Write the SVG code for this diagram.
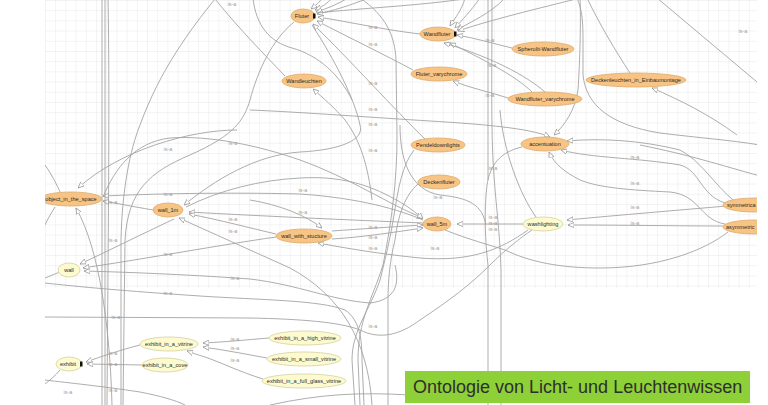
<svg xmlns="http://www.w3.org/2000/svg" width="768" height="405" viewBox="0 0 768 405">
<defs>
<pattern id="grid" x="45" y="0" width="10.2" height="10.2" patternUnits="userSpaceOnUse">
<path d="M0,0 H10.2 M0,0 V10.2" fill="none" stroke="#dedede" stroke-width="0.7"/>
</pattern>
<clipPath id="area"><rect x="45" y="0" width="712" height="405"/></clipPath>
<marker id="h" viewBox="0 0 8 8" refX="8" refY="4" markerWidth="6" markerHeight="6" markerUnits="userSpaceOnUse" orient="auto">
<path d="M0,0.5 L8,4 L0,7.5 z" fill="#fff" stroke="#959595" stroke-width="1"/>
</marker>
<style>
.c path{fill:none;stroke:#a4a4a4;stroke-width:0.9}
.m{marker-end:url(#h)}
.l{font-family:"Liberation Sans",Arial,sans-serif;font-size:5.5px;fill:#a0a0a0;text-anchor:middle}
.o ellipse{fill:#f8c483;stroke:#dcab70;stroke-width:0.8}
.y ellipse{fill:#fdfad0;stroke:#d4d09e;stroke-width:0.8}
.n text{font-family:"Liberation Sans",Arial,sans-serif;font-size:5.6px;fill:#2a2a2a;text-anchor:middle}
.t{font-family:"Liberation Sans",Arial,sans-serif;font-size:18px;fill:#2e2e2e}
</style>
</defs>
<rect width="768" height="405" fill="#fff"/>
<rect x="45" y="0" width="712" height="288" fill="url(#grid)"/>
<g clip-path="url(#area)">
<g id="connectors" class="c">
<path d="M215,-1 C190,30 160,70 140,125 C130,150 122,190 121,240 L121,405"/>
<path d="M215,-1 C240,30 265,55 285,76"/>
<path d="M253,-2 C256,26 270,42 292,48 C318,55 340,75 352,100"/>
<path class="m" d="M332,-2 C328,3 322,7 315,10"/>
<path class="m" d="M348,-2 C338,4 326,9 316,12"/>
<path class="m" d="M368,-2 C352,5 332,11 317,14"/>
<path class="m" d="M322,-2 C320,2 316,5 311,9"/>
<path class="m" d="M420,34 C385,30 350,22 318,17"/>
<path class="m" d="M413,70 C385,55 350,38 317,21"/>
<path class="m" d="M425,139 C395,110 350,60 313,24"/>
<path d="M294,22 C272,40 258,70 250,100 C244,120 235,135 190,155 C150,172 128,190 125,240 L123,405"/>
<path d="M360,-2 C385,15 395,35 396,60 L397,135 C397,180 392,220 383,265 C372,300 358,320 358,360 L360,405"/>
<path d="M318,13 C360,8 420,6 470,-2"/>
<path class="m" d="M465,-2 C462,10 455,18 450,26"/>
<path class="m" d="M480,-2 C470,12 462,20 455,28"/>
<path class="m" d="M505,-2 C490,14 470,22 457,30"/>
<path class="m" d="M580,-2 C540,8 490,20 458,31"/>
<path class="m" d="M512,48 C495,44 475,38 457,35"/>
<path class="m" d="M532,92 C515,75 480,58 450,43"/>
<path class="m" d="M545,92 C520,70 475,52 444,43"/>
<path class="m" d="M508,98 C490,92 470,88 453,81"/>
<path d="M587,-2 C600,25 615,50 630,73"/>
<path class="m" d="M737,135 C710,115 680,100 652,88"/>
<path d="M657,-2 L757,82"/>
<path d="M577,-2 C582,10 583,20 583,40 L583,75 C586,105 610,125 660,133 C700,138 730,140 760,145"/>
<path class="m" d="M580,-2 C581,20 580,60 578,90 C575,110 565,125 554,135"/>
<path class="m" d="M250,110 C300,112 380,118 430,121 C480,124 530,128 550,137"/>
<path class="m" d="M733,200 C715,185 700,160 680,150 C640,140 600,138 567,141"/>
<path class="m" d="M725,203 C700,195 700,170 680,165 C640,158 590,158 561,150"/>
<path class="m" d="M725,224 C700,220 700,195 670,192 C630,190 600,188 580,180 C565,172 555,165 549,152"/>
<path d="M640,145 C690,155 720,165 760,176"/>
<path d="M522,147 C500,152 490,165 487,185 C484,210 485,240 488,265 L488,405"/>
<path d="M488,-2 L488,180"/>
<path d="M492,-2 C492,60 491,120 493,160 C495,200 500,230 501,270 L501,405"/>
<path d="M500,110 C503,150 520,195 536,217"/>
<path class="m" d="M727,206 C680,210 620,215 567,220"/>
<path class="m" d="M723,226 C680,226 620,225 568,225"/>
<path class="m" d="M523,224 L457,224"/>
<path class="m" d="M528,230 C500,250 470,262 420,258 C380,254 345,248 318,243"/>
<path d="M445,230 C470,240 490,245 505,250 C530,262 560,268 600,268 C660,268 705,250 728,232"/>
<path class="m" d="M332,231 C360,229 390,227 423,225"/>
<path class="m" d="M332,239 C365,237 395,232 423,228"/>
<path class="m" d="M103,197 C115,168 135,142 170,138 C210,135 260,146 300,160 C350,178 390,205 423,218"/>
<path class="m" d="M423,220 C400,210 360,198 300,194 C220,192 150,194 103,196"/>
<path class="m" d="M312,25 C335,60 355,100 360,125 C365,140 340,150 300,152 C255,155 215,180 184,205"/>
<path class="m" d="M186,207 C220,190 260,180 300,178 C350,175 380,190 405,205 C412,210 418,214 423,219"/>
<path class="m" d="M423,223 C350,220 260,216 189,212"/>
<path class="m" d="M276,234 C250,228 220,220 189,214"/>
<path class="m" d="M372,405 C368,340 340,295 290,268 C250,250 210,232 179,218"/>
<path class="m" d="M174,219 C140,235 110,250 80,264"/>
<path class="m" d="M153,210 C130,206 115,203 103,201"/>
<path class="m" d="M237,130 C190,130 120,150 78,188"/>
<path class="m" d="M112,405 C110,330 100,250 76,208"/>
<path d="M45,165 C52,175 57,185 60,192"/>
<path d="M45,225 C48,218 52,212 55,207"/>
<path class="m" d="M276,237 C220,245 150,258 83,268"/>
<path class="m" d="M395,265 C400,285 395,300 370,303 C330,300 300,285 250,279 C180,274 120,272 84,271"/>
<path d="M60,272 C52,275 48,277 45,278"/>
<path class="m" d="M250,200 C280,205 305,215 322,228"/>
<path class="m" d="M269,338 C245,340 225,342 203,343"/>
<path class="m" d="M267,358 C245,354 225,350 203,347"/>
<path class="m" d="M263,379 C240,372 220,362 205,357 C195,354 190,352 187,351"/>
<path class="m" d="M140,345 C120,350 100,357 86,362"/>
<path class="m" d="M142,365 L87,364"/>
<path d="M60,370 C55,376 50,380 45,384"/>
<path d="M45,380 C70,383 100,386 140,392 C160,396 175,400 185,405"/>
<path d="M45,317 L250,318 C300,319 340,322 360,330 C380,340 400,335 420,320 C450,300 470,285 490,265 C505,250 520,238 532,230"/>
<path d="M45,283 C90,288 140,292 200,296 C260,300 320,300 345,310 C360,320 362,340 362,360 L364,405"/>
<path d="M270,405 C320,394 360,392 410,395"/>
<path d="M102,-2 L102,405"/>
<path d="M105,-2 L105,405"/>
<path d="M108,-2 C110,100 108,250 107,405"/>
<path d="M418,184 C405,195 398,215 395,240 C390,260 388,280 388,300 L388,405"/>
<path d="M414,150 C402,165 398,190 394,215 C390,240 385,260 380,280 C370,310 352,330 352,360 L355,405"/>
<path d="M400,125 C400,160 410,190 440,195 C470,198 482,205 486,225"/>
<path class="m" d="M372,200 C368,165 360,140 345,120 C335,108 322,97 313,89"/>
</g>
<g id="labels">
<text class="l" x="232" y="6">is-a</text>
<text class="l" x="373" y="29">is-a</text>
<text class="l" x="373" y="46">is-a</text>
<text class="l" x="373" y="85">is-a</text>
<text class="l" x="373" y="111">is-a</text>
<text class="l" x="373" y="126">is-a</text>
<text class="l" x="490" y="42">is-a</text>
<text class="l" x="492" y="67">is-a</text>
<text class="l" x="490" y="97">is-a</text>
<text class="l" x="743" y="33">is-a</text>
<text class="l" x="233" y="145">is-a</text>
<text class="l" x="168" y="151">is-a</text>
<text class="l" x="373" y="152">is-a</text>
<text class="l" x="168" y="196">is-a</text>
<text class="l" x="113" y="204">is-a</text>
<text class="l" x="233" y="221">is-a</text>
<text class="l" x="233" y="233">is-a</text>
<text class="l" x="113" y="242">is-a</text>
<text class="l" x="168" y="256">is-a</text>
<text class="l" x="303" y="192">is-a</text>
<text class="l" x="303" y="214">is-a</text>
<text class="l" x="373" y="229">is-a</text>
<text class="l" x="373" y="239">is-a</text>
<text class="l" x="373" y="250">is-a</text>
<text class="l" x="438" y="199">is-a</text>
<text class="l" x="435" y="250">is-a</text>
<text class="l" x="493" y="170">is-a</text>
<text class="l" x="493" y="219">is-a</text>
<text class="l" x="493" y="225">is-a</text>
<text class="l" x="493" y="231">is-a</text>
<text class="l" x="635" y="159">is-a</text>
<text class="l" x="635" y="185">is-a</text>
<text class="l" x="635" y="209">is-a</text>
<text class="l" x="635" y="225">is-a</text>
<text class="l" x="235" y="280">is-a</text>
<text class="l" x="168" y="295">is-a</text>
<text class="l" x="116" y="319">is-a</text>
<text class="l" x="373" y="328">is-a</text>
<text class="l" x="235" y="341">is-a</text>
<text class="l" x="235" y="350">is-a</text>
<text class="l" x="235" y="362">is-a</text>
<text class="l" x="113" y="355">is-a</text>
<text class="l" x="113" y="366">is-a</text>
<text class="l" x="113" y="392">is-a</text>
<text class="l" x="68" y="394">is-a</text>
</g>
<g id="Fluter" class="n o"><ellipse cx="303" cy="16" rx="12" ry="7"/><text x="302" y="18">Fluter</text><rect x="313" y="13.5" width="2.5" height="5" fill="#111"/></g>
<g id="Wandfluter" class="n o"><ellipse cx="438" cy="34" rx="18" ry="7"/><text x="437" y="36">Wandfluter</text><rect x="454" y="31.5" width="2.5" height="5" fill="#111"/></g>
<g id="Wandleuchten" class="n o"><ellipse cx="304" cy="81" rx="22" ry="7"/><text x="304" y="83">Wandleuchten</text></g>
<g id="Fluter_varychrome" class="n o"><ellipse cx="439" cy="74" rx="28" ry="7"/><text x="439" y="76">Fluter_varychrome</text></g>
<g id="Spherolit-Wandfluter" class="n o"><ellipse cx="543" cy="49" rx="31" ry="7"/><text x="543" y="51">Spherolit-Wandfluter</text></g>
<g id="Wandfluter_varychrome" class="n o"><ellipse cx="545" cy="99" rx="37" ry="7"/><text x="545" y="101">Wandfluter_varychrome</text></g>
<g id="Deckenleuchten_in_Einbaumontage" class="n o"><ellipse cx="636" cy="80" rx="50" ry="7"/><text x="636" y="82">Deckenleuchten_in_Einbaumontage</text></g>
<g id="Pendeldownlights" class="n o"><ellipse cx="438" cy="145" rx="27" ry="7"/><text x="438" y="147">Pendeldownlights</text></g>
<g id="Deckenfluter" class="n o"><ellipse cx="439" cy="182" rx="21" ry="7"/><text x="439" y="184">Deckenfluter</text></g>
<g id="accentuation" class="n o"><ellipse cx="545" cy="144" rx="24" ry="7"/><text x="545" y="146">accentuation</text></g>
<g id="object_in_the_space" class="n o"><ellipse cx="71" cy="199" rx="31" ry="7"/><text x="71" y="201">object_in_the_space</text></g>
<g id="wall_1m" class="n o"><ellipse cx="168" cy="210" rx="15" ry="7"/><text x="168" y="212">wall_1m</text></g>
<g id="wall_with_stucture" class="n o"><ellipse cx="304" cy="236" rx="28" ry="7"/><text x="304" y="238">wall_with_stucture</text></g>
<g id="wall_5m" class="n o"><ellipse cx="437" cy="224" rx="14" ry="7"/><text x="437" y="226">wall_5m</text></g>
<g id="symmetrica" class="n o"><ellipse cx="754" cy="205" rx="31" ry="7"/><text x="727" y="207" style="text-anchor:start">symmetrica</text></g>
<g id="asymmetric" class="n o"><ellipse cx="754" cy="227" rx="31" ry="7"/><text x="726" y="229" style="text-anchor:start">asymmetric</text></g>
<g id="washlighting" class="n y"><ellipse cx="543" cy="224" rx="20" ry="7"/><text x="543" y="226">washlighting</text></g>
<g id="wall" class="n y"><ellipse cx="69" cy="270" rx="11" ry="7"/><text x="69" y="272">wall</text></g>
<g id="exhibit_in_a_vitrine" class="n y"><ellipse cx="169" cy="344" rx="29" ry="7"/><text x="169" y="346">exhibit_in_a_vitrine</text></g>
<g id="exhibit" class="n y"><ellipse cx="69" cy="364" rx="13" ry="7"/><text x="68" y="366">exhibit</text><rect x="80" y="361.5" width="2.5" height="5" fill="#111"/></g>
<g id="exhibit_in_a_cove" class="n y"><ellipse cx="165" cy="365" rx="23" ry="7"/><text x="165" y="367">exhibit_in_a_cove</text></g>
<g id="exhibit_in_a_high_vitrine" class="n y"><ellipse cx="305" cy="338" rx="36" ry="7"/><text x="305" y="340">exhibit_in_a_high_vitrine</text></g>
<g id="exhibit_in_a_small_vitrine" class="n y"><ellipse cx="304" cy="359" rx="37" ry="7"/><text x="304" y="361">exhibit_in_a_small_vitrine</text></g>
<g id="exhibit_in_a_full_glass_vitrine" class="n y"><ellipse cx="304" cy="381" rx="42" ry="7"/><text x="304" y="383">exhibit_in_a_full_glass_vitrine</text></g>
</g>
<g id="title">
<rect x="405" y="371" width="345" height="32" fill="#8dd037"/>
<text class="t" x="413" y="393">Ontologie von Licht- und Leuchtenwissen</text>
</g>
</svg>
